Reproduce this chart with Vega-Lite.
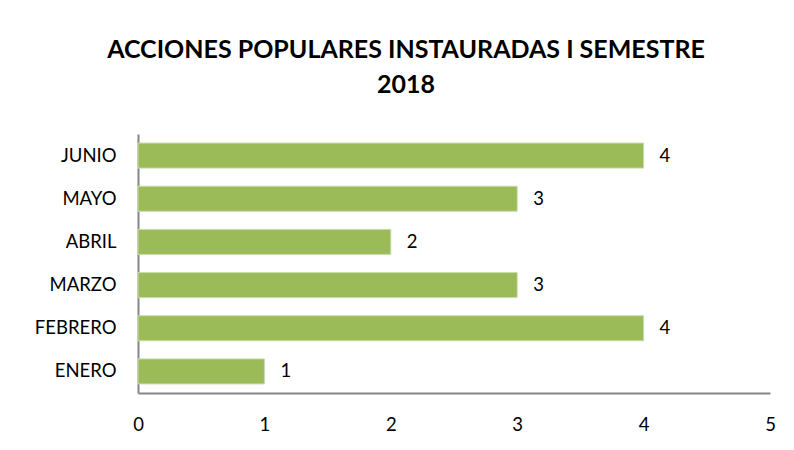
{
  "$schema": "https://vega.github.io/schema/vega-lite/v6.json",
  "autosize": "none",
  "width": 632,
  "height": 259,
  "padding": {"left": 138, "top": 134, "right": 24, "bottom": 57},
  "background": "white",
  "title": {
    "text": ["ACCIONES POPULARES INSTAURADAS I SEMESTRE", "2018"],
    "font": "Lato",
    "fontSize": 25,
    "fontWeight": "bold",
    "color": "#000000",
    "anchor": "middle",
    "dx": -48,
    "offset": 36,
    "lineHeight": 35
  },
  "data": {
    "values": [
      {"mes": "JUNIO", "valor": 4},
      {"mes": "MAYO", "valor": 3},
      {"mes": "ABRIL", "valor": 2},
      {"mes": "MARZO", "valor": 3},
      {"mes": "FEBRERO", "valor": 4},
      {"mes": "ENERO", "valor": 1}
    ]
  },
  "encoding": {
    "y": {
      "field": "mes",
      "type": "nominal",
      "sort": null,
      "title": null,
      "scale": {"paddingInner": 0.42, "paddingOuter": 0.21},
      "axis": {
        "domainColor": "#868686",
        "domainWidth": 2,
        "ticks": false,
        "labelPadding": 22,
        "labelFont": "Lato",
        "labelFontSize": 18.5,
        "labelColor": "#000000"
      }
    },
    "x": {
      "field": "valor",
      "type": "quantitative",
      "title": null,
      "scale": {"domain": [0, 5], "nice": false},
      "axis": {
        "values": [0, 1, 2, 3, 4, 5],
        "grid": false,
        "domainColor": "#868686",
        "domainWidth": 2,
        "ticks": false,
        "labelPadding": 22,
        "labelFont": "Lato",
        "labelFontSize": 18.5,
        "labelColor": "#000000",
        "labelFlush": false
      }
    }
  },
  "layer": [
    {"mark": {"type": "bar", "color": "#9BBB59", "stroke": "#c9dcae", "strokeWidth": 1}},
    {
      "mark": {"type": "text", "align": "left", "baseline": "middle", "dx": 16, "font": "Lato", "fontSize": 18.5, "color": "#000000"},
      "encoding": {"text": {"field": "valor", "type": "quantitative"}}
    }
  ],
  "config": {"view": {"stroke": null}}
}
